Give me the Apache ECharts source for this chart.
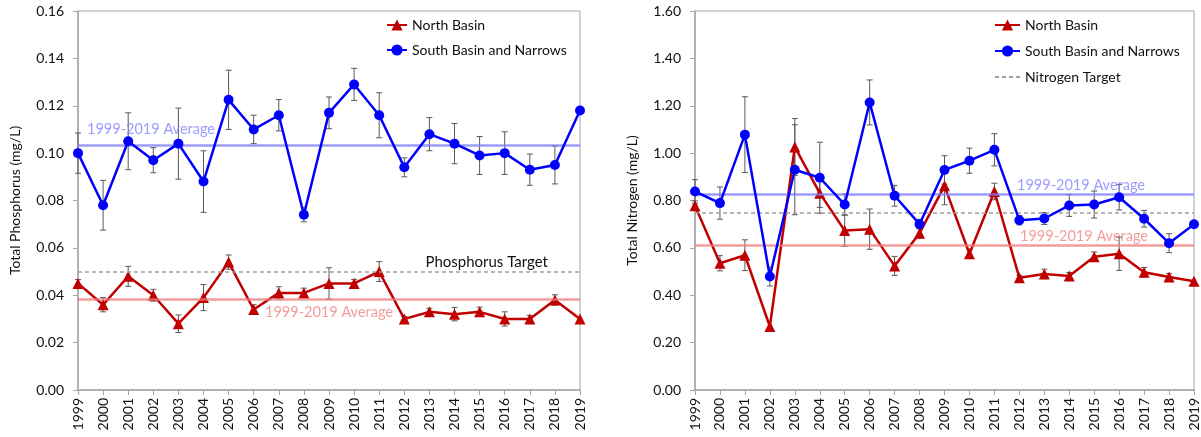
<!DOCTYPE html>
<html>
<head>
<meta charset="utf-8">
<script src="https://cdn.jsdelivr.net/npm/echarts@6/dist/echarts.min.js"></script>
<style>
  html, body { margin: 0; padding: 0; background: #fff; }
  #chart { width: 1201px; height: 437px; }
</style>
</head>
<body>
<div id="chart"></div>
<script>
// years on the x axis
var years = ['1999','2000','2001','2002','2003','2004','2005','2006','2007','2008','2009',
             '2010','2011','2012','2013','2014','2015','2016','2017','2018','2019'];

// total phosphorus (mg/L)
var tpNorth    = [0.045,0.036,0.048,0.040,0.028,0.039,0.054,0.034,0.041,0.041,0.045,0.045,0.050,0.030,0.033,0.032,0.033,0.030,0.030,0.038,0.030];
var tpNorthErr = [0.0016,0.003,0.0042,0.0025,0.0037,0.0055,0.003,0.002,0.0026,0.002,0.0066,0.0017,0.0042,0.001,0.0015,0.0028,0.002,0.003,0.0015,0.0022,0];
var tpSouth    = [0.100,0.078,0.105,0.097,0.104,0.088,0.1225,0.110,0.116,0.074,0.117,0.129,0.116,0.094,0.108,0.104,0.099,0.100,0.093,0.095,0.118];
var tpSouthErr = [0.0085,0.0105,0.012,0.0053,0.015,0.013,0.0125,0.006,0.0066,0.003,0.0067,0.0068,0.0095,0.004,0.007,0.0085,0.008,0.009,0.0066,0.008,0];
var tpNorthAvg = 0.0383;
var tpSouthAvg = 0.1032;
var tpTarget   = 0.05;

// total nitrogen (mg/L)
var tnNorth    = [0.778,0.535,0.569,0.268,1.026,0.831,0.673,0.679,0.524,0.662,0.862,0.575,0.838,0.474,0.490,0.481,0.563,0.575,0.497,0.477,0.459];
var tnNorthErr = [0.02,0.032,0.065,0,0.12,0.06,0.066,0.085,0.04,0.02,0.08,0.02,0.035,0.01,0.02,0.015,0.02,0.07,0.02,0.015,0];
var tnSouth    = [0.838,0.789,1.078,0.479,0.930,0.896,0.783,1.214,0.820,0.700,0.929,0.968,1.014,0.717,0.724,0.779,0.783,0.814,0.723,0.620,0.700];
var tnSouthErr = [0.05,0.068,0.16,0.04,0.19,0.15,0.045,0.095,0.044,0.02,0.06,0.053,0.068,0.02,0.025,0.046,0.057,0.054,0.035,0.04,0];
var tnNorthAvg = 0.613;
var tnSouthAvg = 0.825;
var tnTarget   = 0.75;

var FONT = 'Lato';
var RED = '#c00000', BLUE = '#0000ff';
var AXIS_GRAY = '#a6a6a6';

function errData(vals, errs) {
    var out = [];
    vals.forEach(function (v, i) {
        if (errs[i] > 0) out.push([i, v - errs[i], v + errs[i]]);
    });
    return out;
}

function errItem(params, api) {
    var top = api.coord([api.value(0), api.value(2)]);
    var bot = api.coord([api.value(0), api.value(1)]);
    var st = { stroke: '#595959', lineWidth: 1 };
    return {
        type: 'group',
        children: [
            { type: 'line', shape: { x1: top[0], y1: top[1], x2: bot[0], y2: bot[1] }, style: st },
            { type: 'line', shape: { x1: top[0] - 3, y1: top[1], x2: top[0] + 3, y2: top[1] }, style: st },
            { type: 'line', shape: { x1: bot[0] - 3, y1: bot[1], x2: bot[0] + 3, y2: bot[1] }, style: st }
        ]
    };
}

function errSeries(idx, vals, errs) {
    return {
        type: 'custom', name: 'err', xAxisIndex: idx, yAxisIndex: idx,
        renderItem: errItem, encode: { x: 0, y: [1, 2] },
        data: errData(vals, errs), z: 3, silent: true
    };
}

function avgLine(value, color, pos, dist, pad) {
    return {
        silent: true, symbol: 'none', animation: false, precision: 4,
        lineStyle: { color: color, width: 2.5, type: 'solid', opacity: 0.75 },
        label: {
            show: true, formatter: '1999-2019 Average', position: pos, distance: dist,
            padding: pad, color: color, fontFamily: FONT, fontSize: 14.5
        },
        data: [{ yAxis: value }]
    };
}

function targetLine(value, label, pad) {
    return {
        silent: true, symbol: 'none', animation: false, precision: 4,
        lineStyle: { color: '#a0a0a0', width: 1.5, type: [4, 3] },
        label: {
            show: !!label, formatter: label || '', position: 'insideEndTop', distance: 2,
            padding: pad, color: '#111', fontFamily: FONT, fontSize: 15
        },
        data: [{ yAxis: value }]
    };
}

function xAxis(idx) {
    return {
        type: 'category', gridIndex: idx, data: years, boundaryGap: false,
        axisLine: { lineStyle: { color: AXIS_GRAY, width: 1.5 } },
        axisTick: { length: 5, lineStyle: { color: AXIS_GRAY } },
        axisLabel: { rotate: 90, interval: 0, margin: 8, color: '#111', fontFamily: FONT, fontSize: 14 },
        splitLine: { show: false }
    };
}

function yAxis(idx, max, step, name) {
    return {
        type: 'value', gridIndex: idx, min: 0, max: max, interval: step,
        name: name, nameLocation: 'middle', nameGap: 56,
        nameTextStyle: { color: '#111', fontFamily: FONT, fontSize: 14 },
        axisLine: { show: true, lineStyle: { color: AXIS_GRAY, width: 1.5 } },
        axisTick: { show: true, length: 5, lineStyle: { color: AXIS_GRAY } },
        axisLabel: { margin: 14, color: '#111', fontFamily: FONT, fontSize: 14,
                     formatter: function (v) { return v.toFixed(2); } },
        splitLine: { show: false }
    };
}

function northSeries(idx, vals, mark) {
    return {
        type: 'line', name: 'North Basin', xAxisIndex: idx, yAxisIndex: idx, data: vals,
        symbol: 'triangle', symbolSize: 11, z: 4,
        lineStyle: { color: RED, width: 2.5 }, itemStyle: { color: RED },
        markLine: mark
    };
}

function southSeries(idx, vals, mark) {
    return {
        type: 'line', name: 'South Basin and Narrows', xAxisIndex: idx, yAxisIndex: idx, data: vals,
        symbol: 'circle', symbolSize: 10, z: 5,
        lineStyle: { color: BLUE, width: 2.5 }, itemStyle: { color: BLUE },
        markLine: mark
    };
}

var chart = echarts.init(document.getElementById('chart'), null, { renderer: 'canvas' });
chart.setOption({
    animation: false,
    backgroundColor: '#fff',
    textStyle: { fontFamily: FONT },
    grid: [
        { left: 78, top: 11, width: 502, height: 379, show: true, borderColor: AXIS_GRAY, borderWidth: 1 },
        { left: 695, top: 11, width: 503, height: 379, show: true, borderColor: AXIS_GRAY, borderWidth: 1 }
    ],
    legend: [
        {
            orient: 'vertical', left: 381, top: 13, itemWidth: 20, itemHeight: 14, itemGap: 11,
            data: ['North Basin', 'South Basin and Narrows'],
            textStyle: { color: '#111', fontFamily: FONT, fontSize: 14 }
        },
        {
            orient: 'vertical', left: 989, top: 13, itemWidth: 25, itemHeight: 14, itemGap: 12,
            data: ['North Basin', 'South Basin and Narrows',
                   { name: 'Nitrogen Target', itemStyle: { color: 'transparent', borderWidth: 0 } }],
            textStyle: { color: '#111', fontFamily: FONT, fontSize: 14 }
        }
    ],
    xAxis: [xAxis(0), xAxis(1)],
    yAxis: [
        yAxis(0, 0.16, 0.02, 'Total Phosphorus (mg/L)'),
        yAxis(1, 1.6, 0.2, 'Total Nitrogen (mg/L)')
    ],
    series: [
        {
            type: 'line', name: 'Phosphorus Target', xAxisIndex: 0, yAxisIndex: 0, data: [],
            symbol: 'none', lineStyle: { color: '#a0a0a0', width: 1.5, type: [4, 3] },
            markLine: targetLine(tpTarget, 'Phosphorus Target', [0, 30, 0, 0])
        },
        errSeries(0, tpNorth, tpNorthErr),
        errSeries(0, tpSouth, tpSouthErr),
        northSeries(0, tpNorth, avgLine(tpNorthAvg, '#ee7b7b', 'insideMiddleBottom', 6, 0)),
        southSeries(0, tpSouth, avgLine(tpSouthAvg, '#7b7bff', 'insideStartTop', 9, 0)),

        {
            type: 'line', name: 'Nitrogen Target', xAxisIndex: 1, yAxisIndex: 1, data: [],
            symbol: 'none', lineStyle: { color: '#a0a0a0', width: 1.5, type: [4, 3] },
            itemStyle: { color: '#a0a0a0' },
            markLine: targetLine(tnTarget, null, 0)
        },
        errSeries(1, tnNorth, tnNorthErr),
        errSeries(1, tnSouth, tnSouthErr),
        northSeries(1, tnNorth, avgLine(tnNorthAvg, '#ee7b7b', 'insideEndTop', 1, [0, 45, 0, 0])),
        southSeries(1, tnSouth, avgLine(tnSouthAvg, '#7b7bff', 'insideEndTop', 2, [0, 47, 0, 0]))
    ]
});
</script>
</body>
</html>
